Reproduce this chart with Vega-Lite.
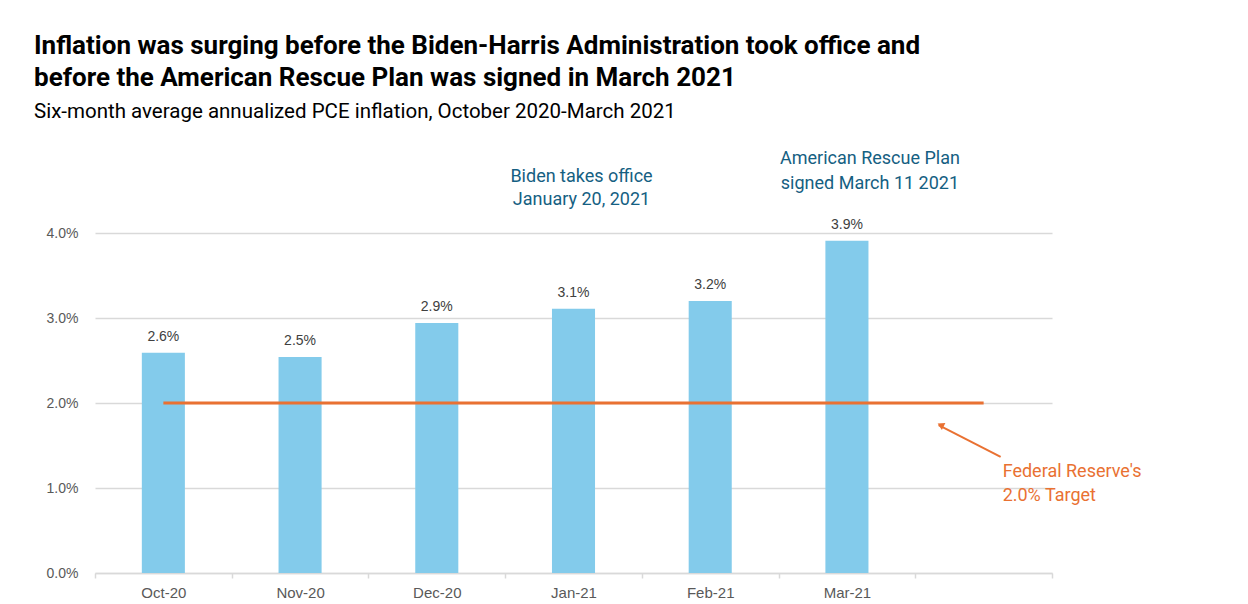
{
  "$schema": "https://vega.github.io/schema/vega-lite/v6.json",
  "width": 957,
  "height": 340,
  "autosize": {"type": "none"},
  "padding": {"left": 95, "top": 233, "right": 196, "bottom": 31},
  "background": "white",
  "config": {"view": {"stroke": null}},
  "title": {
    "text": ["Inflation was surging before the Biden-Harris Administration took office and", "before the American Rescue Plan was signed in March 2021"],
    "subtitle": "Six-month average annualized PCE inflation, October 2020-March 2021",
    "anchor": "start",
    "frame": "group",
    "dx": -61,
    "font": "Liberation Sans Narrow, Roboto",
    "fontSize": 26,
    "fontWeight": "bold",
    "lineHeight": 32,
    "color": "#000000",
    "subtitleFont": "Roboto",
    "subtitleFontSize": 20.5,
    "subtitleColor": "#000000",
    "subtitlePadding": 11,
    "offset": 27
  },
  "datasets": {
    "bars": [
      {"month": "Oct-20", "value": 0.0259},
      {"month": "Nov-20", "value": 0.0254},
      {"month": "Dec-20", "value": 0.0294},
      {"month": "Jan-21", "value": 0.0311},
      {"month": "Feb-21", "value": 0.032},
      {"month": "Mar-21", "value": 0.0391}
    ],
    "target": [
      {"month": "Oct-20", "value": 0.02},
      {"month": " ", "value": 0.02}
    ],
    "arrow": [
      {"month": " ", "tail": 0.01365, "head": 0.01741}
    ]
  },
  "encoding": {
    "x": {
      "field": "month",
      "type": "nominal",
      "sort": null,
      "scale": {"domain": ["Oct-20", "Nov-20", "Dec-20", "Jan-21", "Feb-21", "Mar-21", " "], "paddingInner": 0, "paddingOuter": 0},
      "axis": {
        "title": null,
        "labelAngle": 0,
        "labelFont": "Liberation Sans",
        "labelFontSize": 15,
        "labelColor": "#595959",
        "labelPadding": 7,
        "domainColor": "#d9d9d9",
        "domainWidth": 1.5,
        "tickColor": "#d9d9d9",
        "tickWidth": 1.5,
        "tickSize": 5,
        "tickBand": "extent",
        "grid": false
      }
    }
  },
  "layer": [
    {
      "data": {"name": "bars"},
      "mark": {"type": "bar", "color": "#83CBEB", "width": {"band": 0.315}},
      "encoding": {
        "y": {
          "field": "value",
          "type": "quantitative",
          "scale": {"domain": [0, 0.04], "nice": false},
          "axis": {
            "title": null,
            "values": [0, 0.01, 0.02, 0.03, 0.04],
            "format": ".1%",
            "labelFont": "Liberation Sans",
            "labelFontSize": 14,
            "labelColor": "#595959",
            "labelPadding": 17,
            "domain": false,
            "ticks": false,
            "gridColor": "#d9d9d9",
            "gridWidth": 1.5
          }
        }
      }
    },
    {
      "data": {"name": "bars"},
      "mark": {"type": "text", "dy": -16, "font": "Liberation Sans", "fontSize": 14, "color": "#404040", "baseline": "middle"},
      "encoding": {
        "y": {"field": "value", "type": "quantitative"},
        "text": {"field": "value", "type": "quantitative", "format": ".1%"}
      }
    },
    {
      "data": {"name": "target"},
      "mark": {"type": "line", "color": "#E97132", "strokeWidth": 3},
      "encoding": {
        "y": {"field": "value", "type": "quantitative"}
      }
    },
    {
      "data": {"name": "arrow"},
      "mark": {"type": "rule", "color": "#E97132", "strokeWidth": 2, "xOffset": 17, "x2Offset": -45},
      "encoding": {
        "x2": {"field": "month"},
        "y": {"field": "tail", "type": "quantitative"},
        "y2": {"field": "head"}
      }
    },
    {
      "data": {"name": "arrow"},
      "mark": {"type": "point", "shape": "triangle-up", "filled": true, "color": "#E97132", "opacity": 1, "size": 60, "angle": 297, "xOffset": -43},
      "encoding": {
        "y": {"field": "head", "type": "quantitative"}
      }
    },
    {
      "data": {"values": [
        {"month": "Jan-21", "value": 0.04659, "note": "Biden takes office\nJanuary 20, 2021"}
      ]},
      "mark": {"type": "text", "lineBreak": "\n", "font": "Roboto", "fontSize": 18, "lineHeight": 23, "color": "#156082", "align": "center", "baseline": "middle", "dx": 8},
      "encoding": {
        "y": {"field": "value", "type": "quantitative"},
        "text": {"field": "note"}
      }
    },
    {
      "data": {"values": [
        {"month": "Mar-21", "value": 0.04871, "note": "American Rescue Plan\nsigned March 11 2021"}
      ]},
      "mark": {"type": "text", "lineBreak": "\n", "font": "Roboto", "fontSize": 18, "lineHeight": 25, "color": "#156082", "align": "center", "baseline": "middle", "dx": 23},
      "encoding": {
        "y": {"field": "value", "type": "quantitative"},
        "text": {"field": "note"}
      }
    },
    {
      "data": {"values": [
        {"month": " ", "value": 0.01188, "note": "Federal Reserve's\n2.0% Target"}
      ]},
      "mark": {"type": "text", "lineBreak": "\n", "font": "Roboto", "fontSize": 18, "lineHeight": 24, "color": "#E97132", "align": "left", "baseline": "middle", "dx": 19},
      "encoding": {
        "y": {"field": "value", "type": "quantitative"},
        "text": {"field": "note"}
      }
    }
  ]
}
